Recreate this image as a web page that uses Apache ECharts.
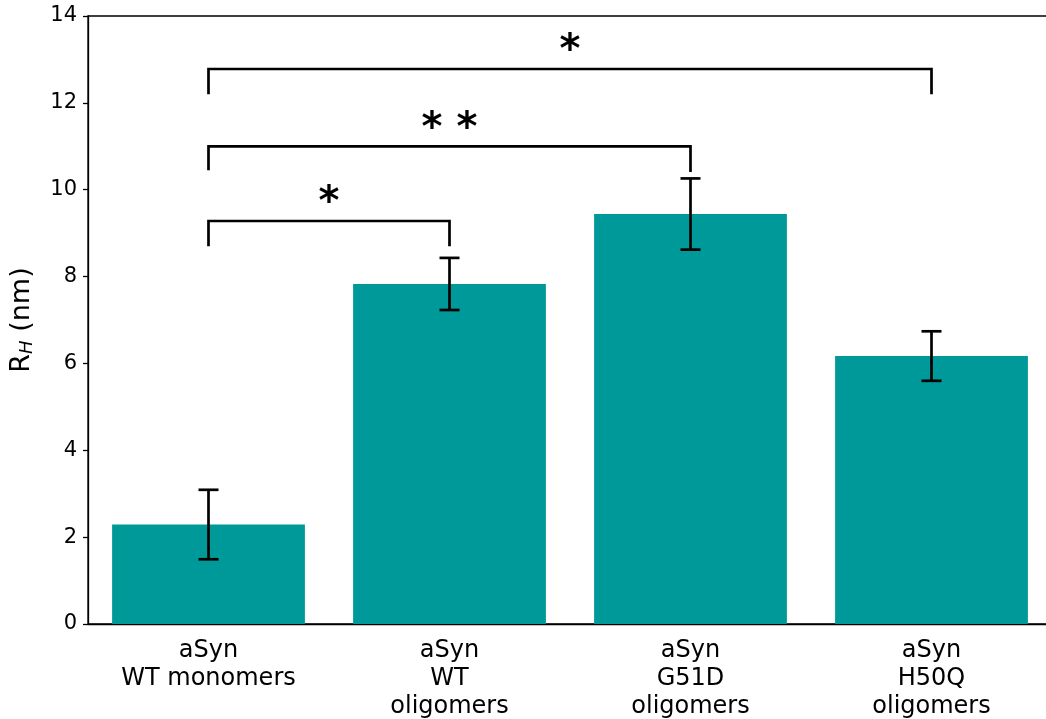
<!DOCTYPE html>
<html lang="en">
<head>
  <meta charset="UTF-8">
  <title>RH bars</title>
  <style>
    html, body { margin: 0; padding: 0; background: #fff; overflow: hidden; }
  </style>
</head>
<body>
  <!-- plot runs a few px past the right edge, like the original figure -->
  <div id="main" style="width:1052px;height:719px"></div>
  <script src="https://cdn.jsdelivr.net/npm/echarts@6/dist/echarts.min.js"></script>
  <script>
    // data
    var categories = ['aSyn\nWT monomers', 'aSyn\nWT\noligomers', 'aSyn\nG51D\noligomers', 'aSyn\nH50Q\noligomers']
    var means = [2.29, 7.83, 9.44, 6.17]
    var errors = [0.80, 0.60, 0.82, 0.57]
    // brackets: [from, to, height, left leg end, right leg end]
    var brackets = [
      [-0.015, 1.0, 9.28, 8.70, 8.70],
      [-0.015, 2.008, 11.0, 10.45, 10.41],
      [-0.015, 2.996, 12.78, 12.2, 12.2]
    ]
    var stars = ['*', '* *', '*']

    var myChart = echarts.init(document.getElementById('main'))
    var font = 'DejaVu Sans'

    var errData = means.map(function (m, i) { return [i, m - errors[i], m + errors[i]] })

    var option = {
      animation: false,
      textStyle: { fontFamily: font },
      grid: {
        left: 88, right: 0, top: 16, bottom: 95,
        outerBoundsMode: 'none',
        show: true, borderColor: '#000', borderWidth: 1.3
      },
      xAxis: {
        type: 'category',
        data: categories,
        axisLine: { lineStyle: { color: '#000', width: 1.3 } },
        axisTick: { alignWithLabel: true, length: 5, lineStyle: { color: '#000', width: 1.3 } },
        axisLabel: { color: '#000', fontSize: 24, lineHeight: 28, margin: 13, fontFamily: font }
      },
      yAxis: {
        type: 'value',
        min: 0, max: 14, interval: 2,
        splitLine: { show: false },
        axisLine: { show: true, lineStyle: { color: '#000', width: 1.3 } },
        axisTick: { show: true, length: 5, lineStyle: { color: '#000', width: 1.3 } },
        axisLabel: { color: '#000', fontSize: 21, margin: 11, fontFamily: font },
        name: '{r|R}{h|H}{r| (nm)}',
        nameLocation: 'middle',
        nameGap: 52,
        nameTextStyle: {
          color: '#000',
          rich: {
            r: { fontSize: 27, fontFamily: font, color: '#000' },
            h: { fontSize: 18, fontStyle: 'italic', fontFamily: font, color: '#000', padding: [10, 0, 0, 0] }
          }
        }
      },
      series: [
        {
          type: 'bar',
          data: means,
          barWidth: '80%',
          itemStyle: { color: '#009999' }
        },
        {
          type: 'custom',
          data: errData,
          z: 5,
          renderItem: function (params, api) {
            var lo = api.coord([api.value(0), api.value(1)])
            var hi = api.coord([api.value(0), api.value(2)])
            var cap = 10
            var st = { stroke: '#000', lineWidth: 2.7 }
            return {
              type: 'group',
              children: [
                { type: 'line', shape: { x1: lo[0], y1: lo[1], x2: hi[0], y2: hi[1] }, style: st },
                { type: 'line', shape: { x1: lo[0] - cap, y1: lo[1], x2: lo[0] + cap, y2: lo[1] }, style: st },
                { type: 'line', shape: { x1: hi[0] - cap, y1: hi[1], x2: hi[0] + cap, y2: hi[1] }, style: st }
              ]
            }
          }
        },
        {
          type: 'custom',
          data: brackets,
          z: 6,
          renderItem: function (params, api) {
            var a = api.coord([api.value(0), api.value(2)])
            var b = api.coord([api.value(1), api.value(2)])
            var aLow = api.coord([api.value(0), api.value(3)])
            var bLow = api.coord([api.value(1), api.value(4)])
            return {
              type: 'group',
              children: [
                {
                  type: 'polyline',
                  shape: { points: [[aLow[0], aLow[1]], [a[0], a[1]], [b[0], b[1]], [bLow[0], bLow[1]]] },
                  style: { stroke: '#000', lineWidth: 2.7, fill: null }
                },
                {
                  type: 'text',
                  style: {
                    text: stars[params.dataIndex],
                    x: (a[0] + b[0]) / 2,
                    y: a[1] + 3,
                    align: 'center',
                    verticalAlign: 'bottom',
                    fontSize: 40,
                    fontWeight: 'bold',
                    fontFamily: font,
                    fill: '#000'
                  }
                }
              ]
            }
          }
        }
      ]
    }

    myChart.setOption(option)
  </script>
</body>
</html>
